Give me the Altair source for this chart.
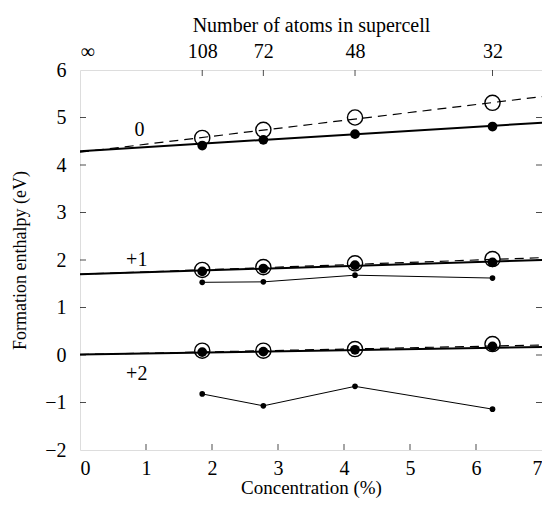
import altair as alt
import pandas as pd

# ---- data ----
conc = [1.852, 2.778, 4.167, 6.25]

open0 = [4.57, 4.74, 5.00, 5.31]
fill0 = [4.41, 4.53, 4.65, 4.81]

open1 = [1.79, 1.85, 1.93, 2.02]
fill1 = [1.76, 1.82, 1.89, 1.95]
small1 = [1.53, 1.54, 1.68, 1.62]

open2 = [0.09, 0.09, 0.125, 0.23]
fill2 = [0.06, 0.07, 0.11, 0.18]
small2 = [-0.82, -1.07, -0.66, -1.14]

fit_x = [0, 7]
solid0 = [4.29, 4.89]
dash0 = [4.27, 5.44]
solid1 = [1.70, 2.00]
dash1 = [1.70, 2.05]
solid2 = [0.01, 0.17]
dash2 = [0.01, 0.21]

charge_labels = ["0", "+1", "+2"]
charge_x = [0.9, 0.86, 0.86]
charge_y = [4.74, 2.0, -0.4]

top_pos = [0, 1.852, 2.778, 4.167, 6.25]
top_labels = ["∞", "108", "72", "48", "32"]

bottom_ticks = [0, 1, 2, 3, 4, 5, 6, 7]
left_ticks = [-2, -1, 0, 1, 2, 3, 4, 5, 6]

FONT = "Liberation Serif"

xs = alt.Scale(domain=[0, 7], nice=False, zero=False)
ys = alt.Scale(domain=[-2, 6], nice=False, zero=False)
xaxis = alt.Axis(values=bottom_ticks, ticks=False, domain=False, grid=False,
                 labelFont=FONT, labelFontSize=20, labelPadding=8,
                 title="Concentration (%)", titleFont=FONT, titleFontSize=19,
                 titleFontWeight="normal", titlePadding=0, labelColor="black",
                 titleColor="black")
yaxis = alt.Axis(values=left_ticks, ticks=False, domain=False, grid=False,
                 labelFont=FONT, labelFontSize=20, labelPadding=14,
                 title="Formation enthalpy (eV)", titleFont=FONT, titleFontSize=18,
                 titleFontWeight="normal", titlePadding=15, labelColor="black",
                 titleColor="black")


def X(field="x"):
    return alt.X(f"{field}:Q", scale=xs, axis=xaxis)


def Y(field="y"):
    return alt.Y(f"{field}:Q", scale=ys, axis=yaxis)


def pts(xv, yv, **extra):
    d = pd.DataFrame({"x": xv, "y": yv})
    for k, v in extra.items():
        d[k] = v
    return d


solid_df = pd.concat([pts(fit_x, solid0, s="0"), pts(fit_x, solid1, s="1"),
                      pts(fit_x, solid2, s="2")])
dash_df = pd.concat([pts(fit_x, dash0, s="0"), pts(fit_x, dash1, s="1"),
                     pts(fit_x, dash2, s="2")])
small_df = pd.concat([pts(conc, small1, s="1"), pts(conc, small2, s="2")])
open_df = pd.concat([pts(conc, open0), pts(conc, open1), pts(conc, open2)])
fill_df = pd.concat([pts(conc, fill0), pts(conc, fill1), pts(conc, fill2)])
label_df = pd.DataFrame({"x": charge_x, "y": charge_y, "t": charge_labels})

solid = alt.Chart(solid_df).mark_line(color="black", strokeWidth=2).encode(
    x=X(), y=Y(), detail="s:N")
dashed = alt.Chart(dash_df).mark_line(color="black", strokeWidth=1.2,
                                      strokeDash=[9, 6]).encode(
    x=X(), y=Y(), detail="s:N")
small_line = alt.Chart(small_df).mark_line(color="black", strokeWidth=1).encode(
    x=X(), y=Y(), detail="s:N")
small_pts = alt.Chart(small_df).mark_circle(color="black", size=32, opacity=1).encode(
    x=X(), y=Y())
open_pts = alt.Chart(open_df).mark_point(shape="circle", filled=False, color="black",
                                         size=230, strokeWidth=1.4, opacity=1).encode(
    x=X(), y=Y())
fill_pts = alt.Chart(fill_df).mark_circle(color="black", size=95, opacity=1).encode(
    x=X(), y=Y())
labels = alt.Chart(label_df).mark_text(font=FONT, fontSize=20, color="black").encode(
    x=X(), y=Y(), text="t:N")

# inward ticks (clipped to the plot area)
bt = alt.Chart(pd.DataFrame({"x": bottom_ticks[1:-1], "y": -2})).mark_tick(
    orient="vertical", size=12, thickness=1, color="black", clip=True).encode(x=X(), y=Y())
tt = alt.Chart(pd.DataFrame({"x": top_pos[1:], "y": 6})).mark_tick(
    orient="vertical", size=12, thickness=1, color="black", clip=True).encode(x=X(), y=Y())
lt = alt.Chart(pd.DataFrame({"x": 0, "y": left_ticks[1:-1]})).mark_tick(
    orient="horizontal", size=12, thickness=1, color="black", clip=True).encode(x=X(), y=Y())
rt = alt.Chart(pd.DataFrame({"x": 7, "y": left_ticks[1:-1]})).mark_tick(
    orient="horizontal", size=12, thickness=1, color="black", clip=True).encode(x=X(), y=Y())

main = alt.layer(dashed, solid, small_line, small_pts, open_pts, fill_pts, labels,
                 bt, tt, lt, rt)

expr = "".join(
    f"abs(datum.value - {p}) < 0.01 ? '{l}' : " for p, l in zip(top_pos, top_labels)
) + "''"

top_df = pd.DataFrame({"xt": top_pos, "y": 6})
top = alt.Chart(top_df).mark_point(opacity=0).encode(
    x=alt.X("xt:Q", scale=xs,
            axis=alt.Axis(orient="top", values=top_pos, labelExpr=expr, ticks=False,
                          domain=False, grid=False, labelFont=FONT, labelFontSize=20,
                          labelPadding=9, labelColor="black",
                          title="Number of atoms in supercell", titleFont=FONT,
                          titleFontSize=20, titleFontWeight="normal", titlePadding=6,
                          titleColor="black")),
    y=Y(),
)

chart = alt.layer(main, top).resolve_scale(x="independent").properties(
    width=462, height=380,
    autosize=alt.AutoSizeParams(type="none"),
    padding={"left": 72, "top": 62, "right": 0, "bottom": 48},
).configure_view(stroke="black", strokeWidth=1.2).configure(
    background="white", font=FONT)

chart.save("out.html", embed_options={"renderer": "svg", "actions": False})
